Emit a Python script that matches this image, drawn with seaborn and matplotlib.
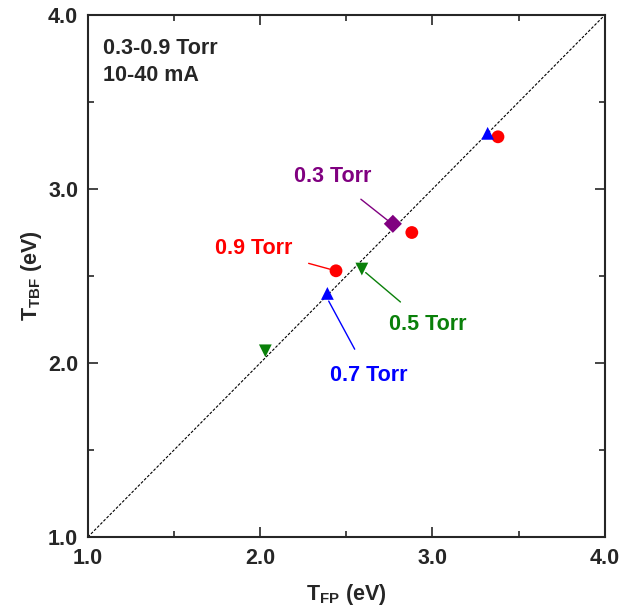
import pandas as pd
import matplotlib
matplotlib.use("Agg")
import matplotlib.pyplot as plt
import seaborn as sns
from matplotlib.ticker import MultipleLocator, FormatStrFormatter

# Data
pressure = ["0.9 Torr", "0.9 Torr", "0.9 Torr", "0.7 Torr", "0.7 Torr", "0.5 Torr", "0.5 Torr", "0.3 Torr"]
t_fp = [2.44, 2.88, 3.38, 2.39, 3.32, 2.03, 2.59, 2.77]
t_tbf = [2.53, 2.75, 3.30, 2.40, 3.32, 2.07, 2.54, 2.80]

colors = {"0.9 Torr": "#ff0000", "0.7 Torr": "#0000ff", "0.5 Torr": "#0a800a", "0.3 Torr": "#800080"}
markers = {"0.9 Torr": "o", "0.7 Torr": "^", "0.5 Torr": "v", "0.3 Torr": "D"}

df = pd.DataFrame({"pressure": pressure, "T_FP": t_fp, "T_TBF": t_tbf})

sns.set_theme(style="ticks")
plt.rcParams["font.family"] = ["Liberation Sans", "DejaVu Sans"]
plt.rcParams["font.weight"] = "bold"
plt.rcParams["mathtext.fontset"] = "custom"
plt.rcParams["mathtext.bf"] = "Liberation Sans:bold"
plt.rcParams["mathtext.rm"] = "Liberation Sans:bold"

fs = 15.5

fig = plt.figure(figsize=(6.32, 6.12), dpi=100)
ax = fig.add_axes([0.139, 0.1225, 0.818, 0.853])

# y = x reference line
ax.plot([1.0, 4.0], [1.0, 4.0], color="black", linestyle=(0, (2.5, 1.5)), linewidth=0.8, zorder=1)

sns.scatterplot(data=df, x="T_FP", y="T_TBF", hue="pressure", style="pressure",
                palette=colors, markers=markers, s=85, edgecolor="none",
                legend=False, ax=ax, zorder=3)

ax.set_xlim(1.0, 4.0)
ax.set_ylim(1.0, 4.0)
ax.xaxis.set_major_locator(MultipleLocator(1.0))
ax.yaxis.set_major_locator(MultipleLocator(1.0))
ax.xaxis.set_minor_locator(MultipleLocator(0.5))
ax.yaxis.set_minor_locator(MultipleLocator(0.5))
ax.xaxis.set_major_formatter(FormatStrFormatter("%.1f"))
ax.yaxis.set_major_formatter(FormatStrFormatter("%.1f"))
ax.tick_params(which="both", direction="in", top=True, right=True, width=1.2)
ax.tick_params(which="major", length=7, labelsize=fs)
ax.tick_params(axis="x", which="major", pad=8)
ax.tick_params(axis="y", which="major", pad=7)
ax.tick_params(which="minor", length=4)
for lab in ax.get_xticklabels() + ax.get_yticklabels():
    lab.set_fontweight("bold")
for sp in ax.spines.values():
    sp.set_linewidth(1.5)

ax.set_xlabel(r"T$_{\mathbf{FP}}$ (eV)", fontsize=fs, fontweight="bold", labelpad=9)
ax.set_ylabel(r"T$_{\mathbf{TBF}}$ (eV)", fontsize=fs, fontweight="bold", labelpad=3)

ax.text(0.03, 0.955, "0.3-0.9 Torr\n10-40 mA", transform=ax.transAxes, ha="left", va="top",
        fontsize=fs, fontweight="bold", linespacing=1.35)

# annotations: (label, point, text position)
notes = [("0.3 Torr", (2.765, 2.80), (2.42, 3.07)),
         ("0.9 Torr", (2.42, 2.535), (1.96, 2.66)),
         ("0.5 Torr", (2.60, 2.53), (2.97, 2.22)),
         ("0.7 Torr", (2.39, 2.37), (2.63, 1.93))]
for lab, xy, xytext in notes:
    ax.annotate(lab, xy=xy, xytext=xytext, color=colors[lab], fontsize=fs, fontweight="bold",
                ha="center", va="center",
                arrowprops=dict(arrowstyle="-", color=colors[lab], lw=1, shrinkA=10, shrinkB=2))

fig.savefig("out.png", dpi=100)
